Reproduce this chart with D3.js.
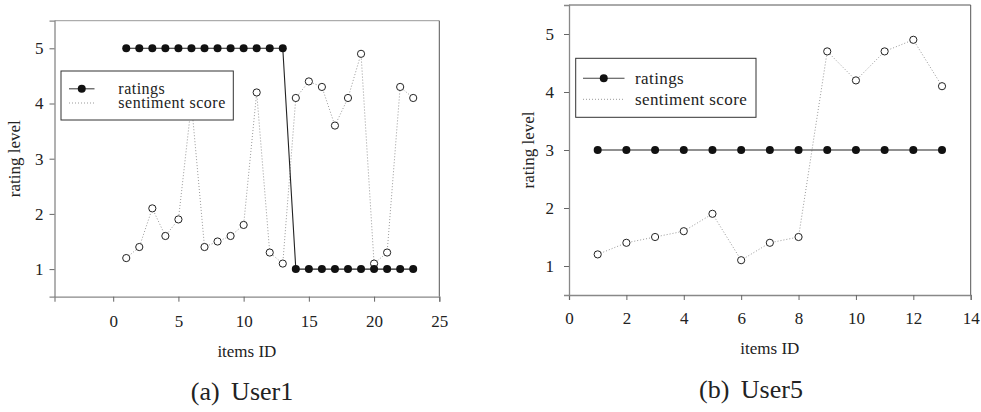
<!DOCTYPE html>
<html><head><meta charset="utf-8">
<script src="https://cdn.jsdelivr.net/npm/d3@7"></script>
</head>
<body style="margin:0;background:#fff"><svg id="c" width="981" height="412"></svg>
<script>
// ---- data ----
const user1Items = [1,2,3,4,5,6,7,8,9,10,11,12,13,14,15,16,17,18,19,20,21,22,23];
const user1Ratings = [5,5,5,5,5,5,5,5,5,5,5,5,5,1,1,1,1,1,1,1,1,1,1];
const user1Sentiment = [1.2,1.4,2.1,1.6,1.9,4.0,1.4,1.5,1.6,1.8,4.2,1.3,1.1,4.1,4.4,4.3,3.6,4.1,4.9,1.1,1.3,4.3,4.1];
const user1XTicks = [0,5,10,15,20,25];

const user5Items = [1,2,3,4,5,6,7,8,9,10,11,12,13];
const user5Ratings = [3,3,3,3,3,3,3,3,3,3,3,3,3];
const user5Sentiment = [1.2,1.4,1.5,1.6,1.9,1.1,1.4,1.5,4.7,4.2,4.7,4.9,4.1];
const user5XTicks = [0,2,4,6,8,10,12,14];

const yTicks = [1,2,3,4,5];
const seriesNames = ["ratings","sentiment score"];

const FONT = "'Liberation Serif'";
const svg = d3.select("#c");

function txt(sel, size){
  return sel.style("font-family", FONT).style("font-size", size+"px").style("fill","#222");
}

function panel(cfg){
  const g = svg.append("g");
  const x = d3.scaleLinear().domain(cfg.xDomain).range([cfg.left, cfg.right]);
  const y = d3.scaleLinear().domain([0.5,5.5]).range([cfg.bottom, cfg.top]);

  g.append("line").attr("x1",cfg.left).attr("x2",cfg.right).attr("y1",cfg.top).attr("y2",cfg.top)
    .attr("stroke",cfg.topColor).attr("stroke-width",1);
  g.append("line").attr("x1",cfg.right).attr("x2",cfg.right).attr("y1",cfg.top).attr("y2",cfg.bottom)
    .attr("stroke","#555").attr("stroke-width",1);

  const xa = g.append("g").attr("transform",`translate(0,${cfg.bottom})`)
    .call(d3.axisBottom(x).tickValues(cfg.xTicks).tickSize(5).tickPadding(cfg.xpad).tickFormat(d3.format("d")));
  const ya = g.append("g").attr("transform",`translate(${cfg.left},0)`)
    .call(d3.axisLeft(y).tickValues(yTicks).tickSize(5).tickPadding(cfg.ypad).tickFormat(d3.format("d")));
  [xa,ya].forEach(a=>{
    a.attr("font-family",null).attr("font-size",null);
    a.select(".domain").attr("stroke","#888").attr("stroke-width",1.3);
    a.selectAll(".tick line").attr("stroke","#666");
    txt(a.selectAll(".tick text"), 17);
  });

  txt(g.append("text").attr("x",(cfg.left+cfg.right)/2).attr("y",cfg.bottom+cfg.xtOff)
    .attr("text-anchor","middle"), 17).text("items ID");
  txt(g.append("text").attr("transform",`translate(${cfg.ytx},${(cfg.top+cfg.bottom)/2}) rotate(-90)`)
    .attr("text-anchor","middle"), 17).text("rating level");

  const sData = cfg.items.map((d,i)=>({x:d,y:cfg.sent[i]}));
  const rData = cfg.items.map((d,i)=>({x:d,y:cfg.rat[i]}));
  const line = d3.line().x(d=>x(d.x)).y(d=>y(d.y));
  g.append("path").attr("d",line(sData)).attr("fill","none").attr("stroke","#999")
    .attr("stroke-width",1).attr("stroke-dasharray","1,2");
  g.selectAll(null).data(sData).enter().append("circle")
    .attr("cx",d=>x(d.x)).attr("cy",d=>y(d.y)).attr("r",3.6)
    .attr("fill","#fff").attr("stroke","#222").attr("stroke-width",1);
  g.append("path").attr("d",line(rData)).attr("fill","none").attr("stroke","#222").attr("stroke-width",1.1);
  g.selectAll(null).data(rData).enter().append("circle")
    .attr("cx",d=>x(d.x)).attr("cy",d=>y(d.y)).attr("r",4).attr("fill","#111");

  const L = cfg.legend;
  g.append("rect").attr("x",L.x0).attr("y",L.y0).attr("width",L.x1-L.x0).attr("height",L.y1-L.y0)
    .attr("fill","#fff").attr("stroke","#333").attr("stroke-width",1);
  g.append("line").attr("x1",L.sx0).attr("x2",L.sx1).attr("y1",L.r1).attr("y2",L.r1)
    .attr("stroke","#444").attr("stroke-width",1.1);
  g.append("circle").attr("cx",(L.sx0+L.sx1)/2).attr("cy",L.r1).attr("r",4).attr("fill","#111");
  g.append("line").attr("x1",L.sx0).attr("x2",L.sx1).attr("y1",L.r2).attr("y2",L.r2)
    .attr("stroke","#999").attr("stroke-width",1).attr("stroke-dasharray","1,2");
  txt(g.append("text").attr("x",L.tx).attr("y",L.r1).attr("dy","0.32em"), L.fs)
    .style("letter-spacing", L.ls+"px").text(seriesNames[0]);
  txt(g.append("text").attr("x",L.tx).attr("y",L.r2).attr("dy","0.32em"), L.fs)
    .style("letter-spacing", L.ls+"px").text(seriesNames[1]);

  txt(g.append("text").attr("x",cfg.capX).attr("y",cfg.capY).attr("text-anchor","middle"), 26)
    .style("word-spacing","5px").text(cfg.caption);
}

panel({items:user1Items, rat:user1Ratings, sent:user1Sentiment, xTicks:user1XTicks,
  xDomain:[-4.5,25], left:54.5, right:439.3, top:20.7, bottom:296.7, ytx:19.5, topColor:"#999",
  xpad:13, ypad:6, xtOff:60,
  legend:{x0:61,x1:233.3,y0:71,y1:120,sx0:69,sx1:94.5,r1:88.8,r2:103,tx:118.3,fs:16,ls:0.5},
  caption:"(a) User1", capX:242, capY:400});

panel({items:user5Items, rat:user5Ratings, sent:user5Sentiment, xTicks:user5XTicks,
  xDomain:[0,14], left:569, right:970.7, top:5, bottom:295, ytx:534, topColor:"#555",
  xpad:12, ypad:10, xtOff:58.5,
  legend:{x0:575.7,x1:756,y0:58.3,y1:117.3,sx0:583,sx1:624.5,r1:78.3,r2:99.3,tx:635,fs:17,ls:0.4},
  caption:"(b) User5", capX:751, capY:398});
</script></body></html>
